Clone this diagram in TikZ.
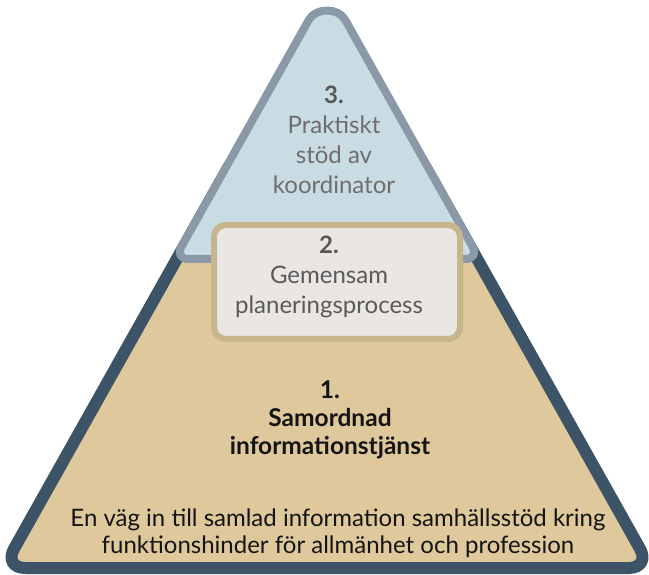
\documentclass[tikz,border=0pt]{standalone}
\usepackage{fontspec}
\setmainfont{Lato}
\definecolor{slate}{HTML}{3D5468}
\definecolor{tanfill}{HTML}{DEC89C}
\definecolor{upgray}{HTML}{8A99A8}
\definecolor{upblue}{HTML}{C9DCE3}
\definecolor{boxtan}{HTML}{C6B68D}
\definecolor{boxfill}{HTML}{E9E6E3}
\definecolor{txtgray}{HTML}{6E6E6E}
\definecolor{numgray}{HTML}{575757}
\definecolor{boxtxt}{HTML}{5A5A5A}
\definecolor{darktxt}{HTML}{141414}
\tikzset{
  lbl/.style={align=center, inner sep=0pt},
}
\begin{document}
\begin{tikzpicture}[x=1pt,y=-1pt]
\useasboundingbox (0,0) rectangle (649,575);
% lower (large) triangle, its top hidden behind the upper one
\draw[draw=slate, fill=tanfill, line width=12pt, rounded corners=22pt, line join=round]
  (416,150) -- (650.8,568) -- (3.2,568) -- (238,150) -- cycle;
% upper triangle
\draw[draw=upgray, fill=upblue, line width=8pt, rounded corners=14pt, line join=round]
  (302,32) .. controls (315.8,7.4) and (338.2,7.4) .. (352,32)
  -- (479.5,259) -- (174.5,259) -- cycle;
% middle box
\draw[draw=boxtan, fill=boxfill, line width=6pt, rounded corners=12pt]
  (214,225) rectangle (460,339);
% texts
\node[lbl, text=txtgray, font={\fontsize{24}{30}\selectfont}] (t3) at (334,140)
  {\textcolor{numgray}{\bfseries 3.}\\Praktiskt\\stöd av\\koordinator};
\node[lbl, text=boxtxt, font={\fontsize{24}{30}\selectfont}] (t2) at (329,277)
  {\textcolor{numgray}{\bfseries 2.}\\Gemensam\\planeringsprocess};
\node[lbl, text=darktxt, font={\bfseries\fontsize{24.5}{28}\selectfont}] (t1) at (330,420)
  {1.\\Samordnad\\informationstjänst};
\node[lbl, text=darktxt, font={\fontsize{24}{27}\selectfont}] (tb) at (338,533)
  {En väg in till samlad information samhällsstöd kring\\funktionshinder för allmänhet och profession};
\end{tikzpicture}
\end{document}
